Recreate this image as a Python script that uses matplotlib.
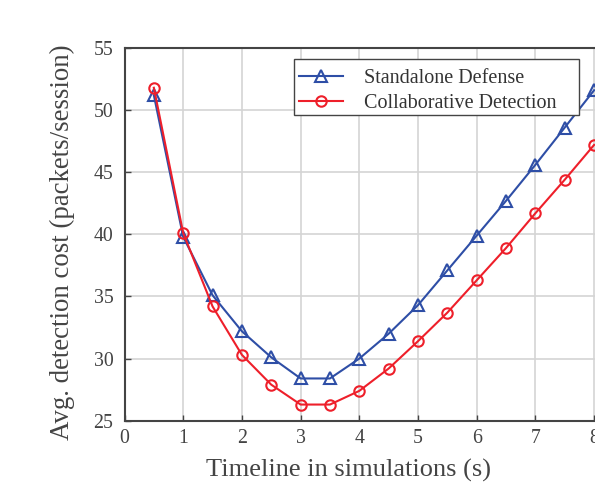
import matplotlib
matplotlib.use("Agg")
import matplotlib.pyplot as plt
from matplotlib.patches import Rectangle

x = [0.5, 1, 1.5, 2, 2.5, 3, 3.5, 4, 4.5, 5, 5.5, 6, 6.5, 7, 7.5, 8]
standalone = [51.2, 39.8, 35.1, 32.2, 30.1, 28.4, 28.4, 30.0, 32.0, 34.3, 37.1, 39.9, 42.7, 45.6, 48.6, 51.6]
collaborative = [51.8, 40.1, 34.2, 30.3, 27.9, 26.3, 26.3, 27.4, 29.2, 31.4, 33.7, 36.3, 38.9, 41.7, 44.4, 47.2]
xticks = [0, 1, 2, 3, 4, 5, 6, 7, 8]
yticks = [25, 30, 35, 40, 45, 50, 55]

plt.rcParams['font.family'] = ['Liberation Serif', 'DejaVu Serif']

fig = plt.figure(figsize=(5.95, 4.91), dpi=100)
W, H = 595, 491
left_px, right_px = 124.5, 124.5 + 9 * 58.7
top_px, bot_px = 48, 420.7
ax = fig.add_axes([left_px / W, 1 - bot_px / H, (right_px - left_px) / W, (bot_px - top_px) / H])
aw, ah = right_px - left_px, bot_px - top_px

def ax_x(px):
    return (px - left_px) / aw

def ax_y(py):
    return (bot_px - py) / ah

blue = '#2e4ea6'
red = '#ee1f2a'
ax.plot(x, standalone, color=blue, lw=1.5, marker='^', markersize=8, mfc='none', mew=1.5,
        label='Standalone Defense', zorder=3)
ax.plot(x, collaborative, color=red, lw=1.5, marker='o', markersize=7.5, mfc='none', mew=1.5,
        label='Collaborative Detection', zorder=3)

ax.set_xlim(0, 9)
ax.set_ylim(25, 55)
ax.set_xticks(xticks)
ax.set_yticks(yticks)
ax.grid(True, color='#d4d4d4', lw=1.2)
ax.set_axisbelow(True)
ax.tick_params(direction='in', length=4, width=1, colors='#444444', labelsize=14.3, labelcolor='#444444')
ax.tick_params(axis='x', pad=6)
ax.tick_params(axis='y', pad=8)
for s in ['left', 'bottom', 'top']:
    ax.spines[s].set_color('#444444')
    ax.spines[s].set_linewidth(1.5)
ax.spines['right'].set_visible(False)

ax.set_xlabel('Timeline in simulations (s)', fontsize=19, color='#444444')
ax.set_ylabel('Avg. detection cost (packets/session)', fontsize=19.4, color='#444444')
ax.xaxis.set_label_coords(ax_x(349), ax_y(470), transform=ax.transAxes)
ax.yaxis.set_label_coords(ax_x(62), ax_y(242.5), transform=ax.transAxes)
ax.xaxis.label.set_va('center')
ax.yaxis.label.set_va('center')

# legend frame
x0, x1, y0, y1 = ax_x(294), ax_x(579), ax_y(115), ax_y(59)
ax.add_patch(Rectangle((x0, y0), x1 - x0, y1 - y0, transform=ax.transAxes, facecolor='white',
                       edgecolor='#444444', lw=1.0, zorder=4, clip_on=False))
leg = ax.legend(loc='upper left', bbox_to_anchor=(ax_x(289), y1), fontsize=14.5, frameon=False,
                handlelength=2.2, borderpad=0.5, labelspacing=0.3, handletextpad=1.0,
                borderaxespad=0)
leg.set_zorder(5)
for t in leg.get_texts():
    t.set_color('#333333')

fig.savefig('out.png', dpi=100)
